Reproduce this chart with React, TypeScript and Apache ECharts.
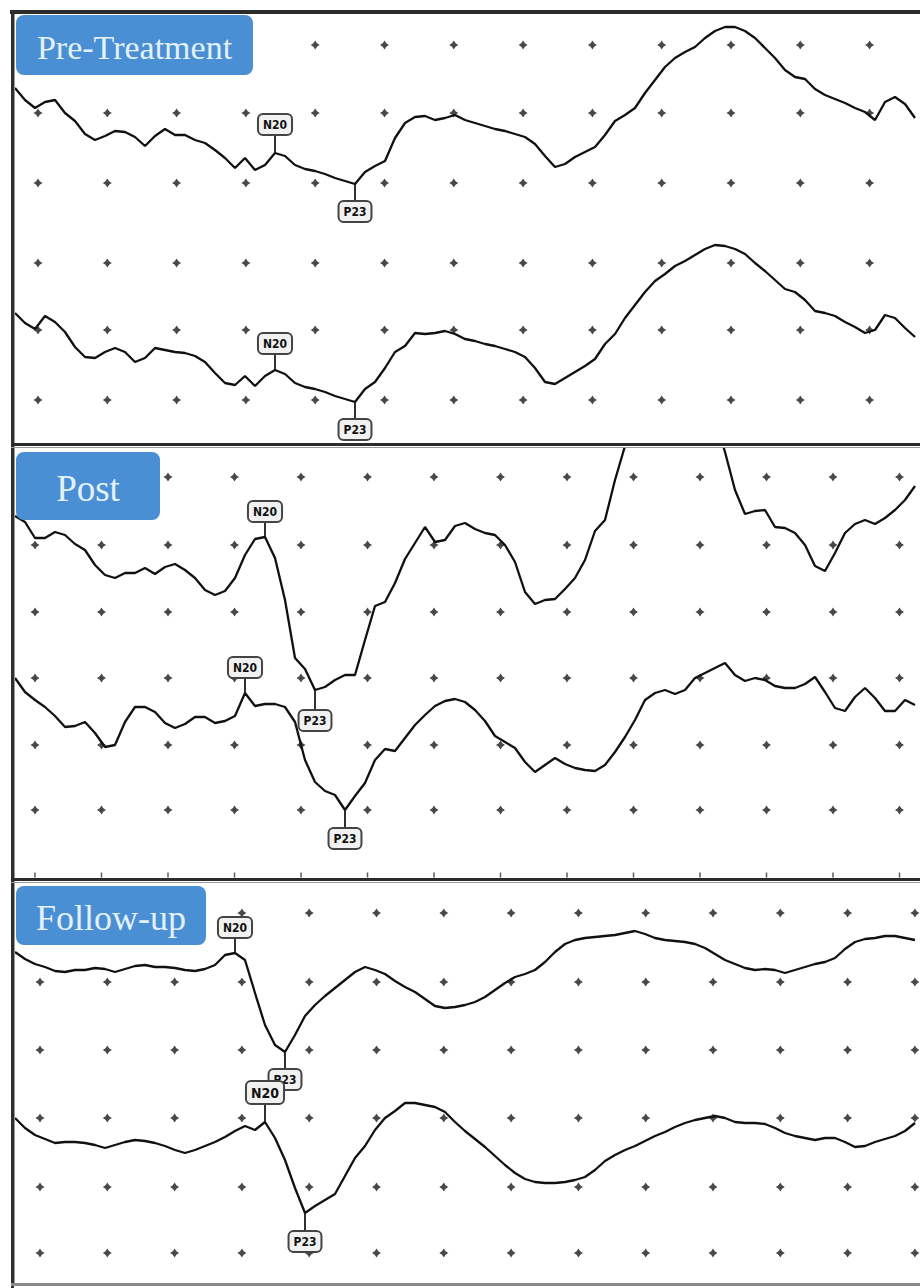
import React, { useEffect, useRef } from "react";
import * as echarts from "echarts";

// Evoked-potential traces at uniform sample steps (sample i ~ 10 px apart).
// Values are depth readings (inverted amplitude axis, negative-up EEG convention).
const preTop = [88,100,108,102,100,113,121,134,140,136,131,132,137,146,136,129,135,135,140,143,150,158,168,158,170,165,153,156,165,169,171,174,178,181,184,172,166,161,138,123,117,116,120,118,115,120,123,126,129,131,134,137,144,156,167,164,157,152,147,135,121,115,108,93,80,67,58,52,47,38,31,27,27,31,38,48,58,70,77,79,89,95,99,103,108,112,120,102,97,104,118];
const preBottom = [313,323,329,316,322,332,347,357,358,352,348,352,362,358,348,350,352,353,356,362,373,383,385,376,386,376,370,374,383,387,389,392,396,399,402,389,382,368,352,346,333,334,333,331,334,339,341,344,346,349,352,357,368,382,384,378,372,366,359,344,334,318,305,292,281,274,266,261,255,249,245,246,249,254,263,271,280,289,292,300,311,313,316,322,327,333,330,315,318,328,337];
const postTop = [516,522,538,538,532,535,544,550,565,575,578,573,573,568,574,567,564,570,578,590,595,591,578,555,539,537,558,600,658,669,690,687,680,675,675,640,606,602,583,559,543,527,542,540,526,523,529,533,535,545,562,592,604,600,599,589,578,560,531,520,480,446,415,390,372,362,358,362,372,390,418,452,490,514,511,510,527,528,533,545,566,571,553,533,524,520,524,518,510,500,486];
const postBottom = [678,692,700,707,716,727,726,722,733,747,745,722,707,707,712,723,728,724,717,717,723,721,716,693,706,704,704,707,722,760,782,791,795,810,796,783,760,749,751,738,725,715,706,701,699,702,710,721,736,742,748,762,772,765,758,764,768,770,771,765,752,737,720,700,693,690,694,690,678,673,668,663,675,681,678,680,686,688,688,684,677,692,708,711,697,688,698,711,711,700,705];
const followTop = [952,959,964,967,971,972,970,970,968,969,972,969,966,965,967,967,968,970,971,969,965,955,953,960,993,1025,1045,1052,1035,1016,1005,996,988,980,972,967,970,974,981,987,992,999,1006,1008,1007,1005,1002,997,990,983,977,974,970,962,952,944,940,938,937,936,935,933,931,934,938,940,941,942,944,948,954,960,964,968,970,969,970,973,970,967,964,962,958,949,942,939,938,936,936,938,940];
const followBottom = [1118,1128,1135,1139,1143,1142,1142,1143,1145,1148,1145,1142,1140,1141,1143,1146,1150,1153,1150,1146,1142,1137,1131,1126,1130,1122,1138,1160,1188,1213,1206,1200,1194,1176,1158,1146,1130,1118,1111,1103,1103,1105,1107,1112,1122,1131,1139,1147,1156,1165,1173,1179,1182,1183,1183,1182,1180,1177,1170,1161,1155,1150,1146,1141,1136,1132,1127,1123,1120,1118,1116,1118,1122,1123,1123,1124,1128,1133,1136,1138,1140,1138,1138,1142,1147,1146,1142,1139,1136,1131,1123];

const panelTitles = ["Pre-Treatment", "Post", "Follow-up"];

// Peak markers: trace (0 = upper, 1 = lower), sample index, label
const prePeaks = [
  { label: "N20", trace: 0, index: 26 },
  { label: "P23", trace: 0, index: 34 },
  { label: "N20", trace: 1, index: 26 },
  { label: "P23", trace: 1, index: 34 },
];
const postPeaks = [
  { label: "N20", trace: 0, index: 25 },
  { label: "P23", trace: 0, index: 30 },
  { label: "N20", trace: 1, index: 23 },
  { label: "P23", trace: 1, index: 33 },
];
const followPeaks = [
  { label: "N20", trace: 0, index: 22 },
  { label: "P23", trace: 0, index: 27 },
  { label: "N20", trace: 1, index: 25 },
  { label: "P23", trace: 1, index: 29 },
];

// Graticule rows (depth units) per panel
const preDotRows = [45, 113, 183, 263, 330, 400];
const postDotRows = [477, 545, 612, 678, 745, 810];
const followDotRows = [913, 982, 1050, 1118, 1187, 1253];

// ---- layout / style (not data) ----
const FRAME_LEFT = 14;
const layout = [
  { top: 14, bottom: 443, dotStart: 2.3, dotStep: 6.93, dotCount: 13, titleBox: [16, 15, 237, 60], titleSize: 34, stems: [[-19, 18], [-17, 18]], fonts: [12, 12] },
  { top: 449, bottom: 878, dotStart: 2.0, dotStep: 6.65, dotCount: 14, titleBox: [16, 452, 144, 68], titleSize: 37, stems: [[-16, 21], [-16, 19]], fonts: [12, 12] },
  { top: 884, bottom: 1283, dotStart: 2.5, dotStep: 6.73, dotCount: 14, titleBox: [16, 886, 190, 59], titleSize: 36, stems: [[-16, 18], [-19, 19]], fonts: [12, 14] },
];

const DOT_SYMBOL = "path://M3,0 L4.2,1.8 L6,3 L4.2,4.2 L3,6 L1.8,4.2 L0,3 L1.8,1.8 Z";

export default function App() {
  const ref = useRef<HTMLDivElement>(null);

  useEffect(() => {
    if (!ref.current) return;
    const chart = echarts.init(ref.current, undefined, { renderer: "svg" });

    const traces = [
      [preTop, preBottom],
      [postTop, postBottom],
      [followTop, followBottom],
    ];
    const peaks = [prePeaks, postPeaks, followPeaks];
    const dotRows = [preDotRows, postDotRows, followDotRows];

    const grid: any[] = [];
    const xAxis: any[] = [];
    const yAxis: any[] = [];
    const series: any[] = [];
    const graphic: any[] = [];

    layout.forEach((L, p) => {
      grid.push({ left: FRAME_LEFT, right: 0, top: L.top, height: L.bottom - L.top, containLabel: false });
      xAxis.push({ type: "value", gridIndex: p, min: -0.1, max: 90.5, show: false });
      yAxis.push({ type: "value", gridIndex: p, min: L.top, max: L.bottom, inverse: true, show: false });

      // graticule dots
      const dots: number[][] = [];
      for (let k = 0; k < L.dotCount; k++) {
        dotRows[p].forEach((r) => dots.push([L.dotStart + L.dotStep * k, r]));
      }
      series.push({
        type: "scatter",
        xAxisIndex: p,
        yAxisIndex: p,
        data: dots,
        symbol: DOT_SYMBOL,
        symbolSize: 9,
        itemStyle: { color: "#1a1a1a" },
        silent: true,
        z: 2,
      });
      if (p === 1) {
        const ticks: number[][] = [];
        for (let k = 0; k < L.dotCount; k++) ticks.push([L.dotStart + L.dotStep * k, L.bottom - 3]);
        series.push({
          type: "scatter",
          xAxisIndex: p,
          yAxisIndex: p,
          data: ticks,
          symbol: "rect",
          symbolSize: [1.5, 5],
          itemStyle: { color: "#333" },
          silent: true,
          z: 2,
        });
      }

      traces[p].forEach((arr) => {
        series.push({
          type: "line",
          xAxisIndex: p,
          yAxisIndex: p,
          data: arr.map((v, i) => [i, v]),
          showSymbol: false,
          clip: true,
          lineStyle: { color: "#111111", width: 2.3 },
          z: 3,
          silent: true,
        });
      });

      const pk = peaks[p];
      series.push({
        type: "custom",
        xAxisIndex: p,
        yAxisIndex: p,
        coordinateSystem: "cartesian2d",
        data: pk.map((m) => [m.index, traces[p][m.trace][m.index]]),
        z: 5,
        silent: true,
        renderItem: (params: any, api: any) => {
          const m = pk[params.dataIndex];
          const isN = m.label.startsWith("N");
          const stem = L.stems[m.trace][isN ? 0 : 1];
          const fs = isN ? L.fonts[m.trace] : 12;
          const pt = api.coord([api.value(0), api.value(1)]);
          const yEnd = pt[1] + stem;
          return {
            type: "group",
            children: [
              {
                type: "line",
                shape: { x1: pt[0], y1: pt[1], x2: pt[0], y2: yEnd },
                style: { stroke: "#1a1a1a", lineWidth: 1.8 },
              },
              {
                type: "text",
                x: pt[0],
                y: yEnd,
                style: {
                  text: m.label,
                  align: "center",
                  verticalAlign: stem < 0 ? "bottom" : "top",
                  font: `bold ${fs}px "DejaVu Sans Condensed", "DejaVu Sans"`,
                  fill: "#111",
                  backgroundColor: "#f1f1f1",
                  borderColor: "#444",
                  borderWidth: 2,
                  borderRadius: 4,
                  padding: [4, 4, 3, 4],
                },
              },
            ],
          };
        },
      });

      // title box
      const [bx, by, bw, bh] = L.titleBox;
      graphic.push({
        type: "rect",
        z: 50,
        shape: { x: bx, y: by, width: bw, height: bh, r: 8 },
        style: { fill: "#4a8fd3" },
      });
      graphic.push({
        type: "text",
        z: 51,
        x: bx + bw / 2,
        y: by + bh / 2 + 2,
        style: {
          text: panelTitles[p],
          align: "center",
          verticalAlign: "middle",
          font: `${L.titleSize}px "Liberation Serif"`,
          fill: "#e3f1fb",
        },
      });
    });

    // frame
    const frame = [
      { x: 10, y: 10, w: 910, h: 4, c: "#2b2b2b" },
      { x: 11, y: 10, w: 3, h: 1278, c: "#2e2e2e" },
      { x: 14, y: 14, w: 1, h: 1270, c: "#9a9a9a" },
      { x: 11, y: 443, w: 909, h: 3, c: "#2b2b2b" },
      { x: 11, y: 447, w: 909, h: 1, c: "#9a9a9a" },
      { x: 11, y: 878, w: 909, h: 3, c: "#2b2b2b" },
      { x: 11, y: 882, w: 909, h: 1, c: "#9a9a9a" },
      { x: 11, y: 1283, w: 909, h: 3, c: "#8a8a8a" },
    ];
    frame.forEach((f) =>
      graphic.push({ type: "rect", z: 40, shape: { x: f.x, y: f.y, width: f.w, height: f.h }, style: { fill: f.c } })
    );

    chart.setOption({
      animation: false,
      backgroundColor: "#ffffff",
      grid,
      xAxis,
      yAxis,
      series,
      graphic,
    });

    return () => chart.dispose();
  }, []);

  return (
    <div
      ref={ref}
      style={{ position: "absolute", left: 0, top: 0, width: 920, height: 1288, background: "#fff" }}
    />
  );
}
